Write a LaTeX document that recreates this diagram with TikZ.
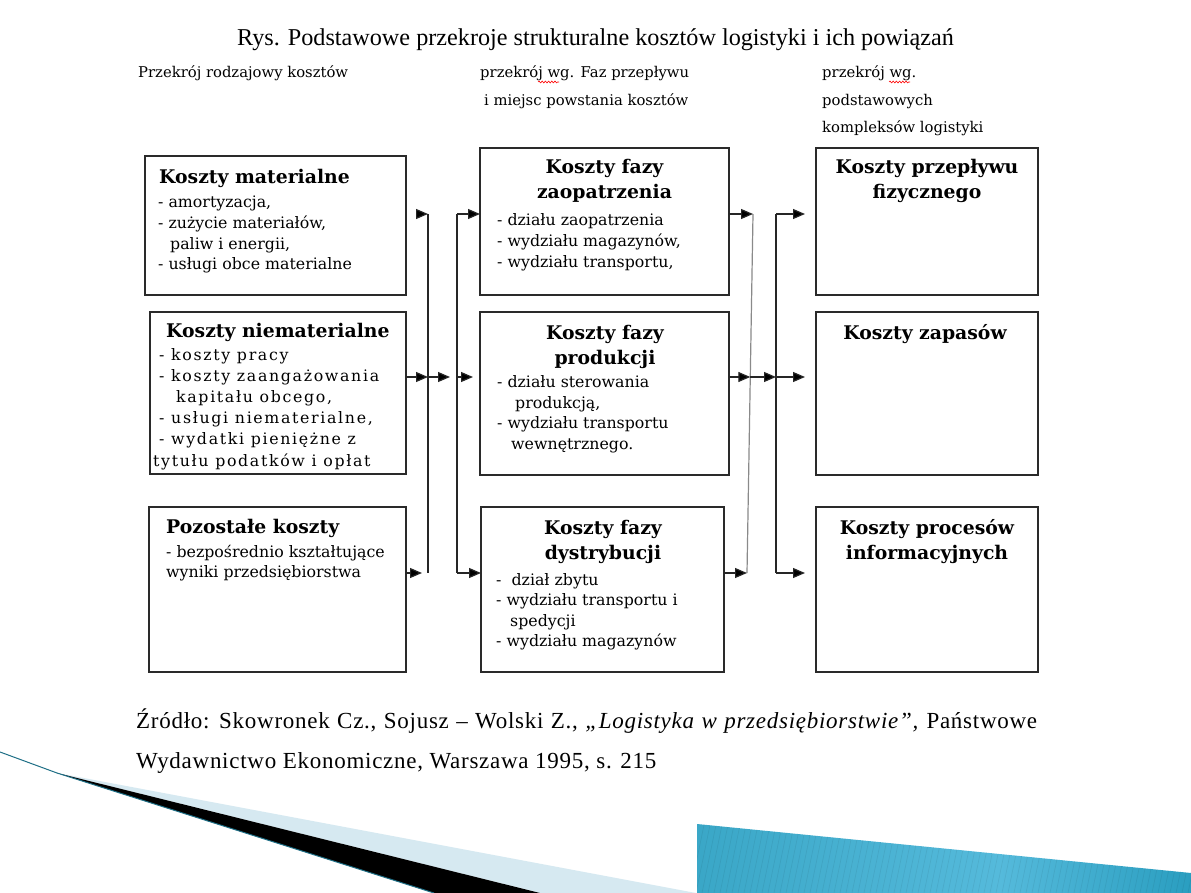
\documentclass[tikz,border=0pt]{standalone}
\usepackage{fontspec}
\setmainfont{Liberation Serif}
\newfontfamily\cenfont{DejaVu Serif}
\newfontfamily\cenfontsp[LetterSpace=10.5]{DejaVu Serif}
\newfontfamily\srcfont[LetterSpace=3.2]{Liberation Serif}
\usetikzlibrary{arrows.meta,decorations.pathmorphing}
\newcommand{\ltab}[1]{\begin{tabular}[t]{@{}l@{}}#1\end{tabular}}
\newcommand{\ctab}[1]{\begin{tabular}[t]{@{}c@{}}#1\end{tabular}}
\definecolor{lnc}{HTML}{2A2A2A}
\definecolor{cnc}{HTML}{262626}
\definecolor{slantc}{HTML}{8A8A8A}
\definecolor{swlight}{HTML}{D6E9F1}
\definecolor{swteal}{HTML}{1E6F86}
\definecolor{blA}{HTML}{3AA7C7}
\definecolor{blB}{HTML}{0C86A9}
\definecolor{blC}{HTML}{55BADB}
\definecolor{blD}{HTML}{2A9EC0}
\begin{document}
\begin{tikzpicture}[x=1pt,y=-1pt,
  box/.style={draw=lnc,line width=1.4pt,inner sep=0pt,outer sep=0pt,anchor=north west},
  ttl/.style={inner sep=0pt,font=\cenfont\bfseries\fontsize{18.8}{25}\selectfont},
  bodyt/.style={inner sep=0pt,anchor=base west,font=\cenfont\fontsize{15.8}{20.6}\selectfont},
  bodysp/.style={inner sep=0pt,anchor=base west,font=\cenfontsp\fontsize{15.8}{21.2}\selectfont},
  hdr/.style={inner sep=0pt,anchor=base west,font=\cenfont\fontsize{14.8}{27.5}\selectfont},
  src/.style={inner sep=0pt,anchor=base west,font=\srcfont\fontsize{23}{28}\selectfont},
  conn/.style={draw=cnc,line width=1.2pt},
  arr/.style={conn,-{Triangle[length=12pt,width=10pt,fill=black]}},
  squig/.style={draw=red,line width=0.6pt,decorate,decoration={snake,amplitude=0.9pt,segment length=3.2pt}}
]
\useasboundingbox (0,0) rectangle (1191,893);
\fill[white] (0,0) rectangle (1191,893);

% title and headers
\node[inner sep=0pt,anchor=base,font=\fontsize{24.2}{28}\selectfont] (title) at (595.5,46)
  {Rys. Podstawowe przekroje strukturalne kosztów logistyki i ich powiązań};
\node[hdr] (h1) at (138,78) {Przekrój rodzajowy kosztów};
\node[hdr] (h2) at (480,78) {\ltab{przekrój wg. Faz przepływu\\\hspace*{4pt}i miejsc powstania kosztów}};
\node[hdr] (h3) at (822,78) {\ltab{przekrój wg.\\podstawowych\\kompleksów logistyki}};
\coordinate (q1a) at (538,82); \coordinate (q1b) at (559,82);
\coordinate (q2a) at (889,82); \coordinate (q2b) at (910,82);
\draw[squig] (q1a) -- (q1b);
\draw[squig] (q2a) -- (q2b);

% column 1
\node[box,minimum width=261pt,minimum height=139pt] (A) at (145,156) {};
\node[box,minimum width=256pt,minimum height=162pt] (B) at (150,312) {};
\node[box,minimum width=257pt,minimum height=165pt] (C) at (149,507) {};
% column 2
\node[box,minimum width=249pt,minimum height=147pt] (D) at (480,148) {};
\node[box,minimum width=249pt,minimum height=163pt] (E) at (480,312) {};
\node[box,minimum width=243pt,minimum height=165pt] (F) at (481,507) {};
% column 3
\node[box,minimum width=222pt,minimum height=147pt] (G) at (816,148) {};
\node[box,minimum width=222pt,minimum height=163pt] (H) at (816,312) {};
\node[box,minimum width=222pt,minimum height=165pt] (I) at (816,507) {};

% texts column 1
\node[ttl,anchor=base west] (At) at (159,184) {Koszty materialne};
\node[bodyt] (Ab) at (158,208) {\ltab{- amortyzacja,\\- zużycie materiałów,\\\hspace*{12pt}paliw i energii,\\- usługi obce materialne}};
\node[ttl,anchor=base west] (Bt) at (166,337) {Koszty niematerialne};
\node[bodysp] (Bb) at (159,360) {\ltab{- koszty pracy\\- koszty zaangażowania\\\hspace*{17pt}kapitału obcego,\\- usługi niematerialne,\\- wydatki pieniężne z\\\hspace*{-6pt}tytułu podatków i opłat}};
\node[ttl,anchor=base west] (Ct) at (166,533) {Pozostałe koszty};
\node[bodyt] (Cb) at (166,557) {\ltab{- bezpośrednio kształtujące\\wyniki przedsiębiorstwa}};

% texts column 2
\node[ttl,anchor=base] (Dt) at (604.5,174) {\ctab{Koszty fazy\\zaopatrzenia}};
\node[bodyt] (Db) at (497,226) {\ltab{-\ działu zaopatrzenia\\- wydziału magazynów,\\- wydziału transportu,}};
\node[ttl,anchor=base] (Et) at (605,339) {\ctab{Koszty fazy\\produkcji}};
\node[bodyt] (Eb) at (497,387.5) {\ltab{- działu sterowania\\\hspace*{18pt}produkcją,\\- wydziału transportu\\\hspace*{14pt}wewnętrznego.}};
\node[ttl,anchor=base] (Ft) at (603,534) {\ctab{Koszty fazy\\dystrybucji}};
\node[bodyt] (Fb) at (496,585) {\ltab{-\ \ dział zbytu\\- wydziału transportu i\\\hspace*{14pt}spedycji\\- wydziału magazynów}};

% texts column 3
\node[ttl,anchor=base] (Gt) at (927,174) {\ctab{Koszty przepływu\\fizycznego}};
\node[ttl,anchor=base] (Ht) at (925,339) {Koszty zapasów};
\node[ttl,anchor=base] (It) at (927,534) {\ctab{Koszty procesów\\informacyjnych}};

% left connectors
\coordinate (L1) at (428,214); \coordinate (L2) at (428,377); \coordinate (L3) at (428,573);
\coordinate (R1) at (457,214); \coordinate (R2) at (457,377); \coordinate (R3) at (457,573);
\coordinate (M1) at (450,377);
\coordinate (L0) at (416,214);
\coordinate (C3) at (422,573);
\coordinate (E2) at (473,377);
\draw[conn] (L1) -- (L3);
\draw[conn] (R1) -- (R3);
\draw[arr] (L0) -- (L1);
\draw[arr] (B.east |- L2) -- (L2);
\draw[arr] (C.east |- C3) -- (C3);
\draw[arr] (L2) -- (M1);
\draw[arr] (R1) -- (D.west |- R1);
\draw[arr] (R2) -- (E2);
\draw[arr] (R3) -- (F.west |- R3);

% right connectors
\coordinate (S1) at (753,214); \coordinate (S2) at (750.3,377); \coordinate (S3) at (747,573);
\coordinate (T1) at (776,214); \coordinate (T2) at (776,377); \coordinate (T3) at (776,573);
\coordinate (U1) at (805,214); \coordinate (U2) at (805,377); \coordinate (U3) at (805,573);
\draw[conn,draw=slantc] (S1) -- (S3);
\draw[conn] (T1) -- (T3);
\draw[arr] (D.east |- S1) -- (S1);
\draw[arr] (E.east |- S2) -- (S2);
\draw[arr] (F.east |- S3) -- (S3);
\draw[arr] (S2) -- (T2);
\draw[arr] (T1) -- (U1);
\draw[arr] (T2) -- (U2);
\draw[arr] (T3) -- (U3);

% source
\node[src] (src1) at (136,728) {\spaceskip=7.4pt plus 1pt Źródło: Skowronek Cz., Sojusz – Wolski Z., \textit{„Logistyka w przedsiębiorstwie”,} Państwowe};
\node[src] (src2) at (136,768) {Wydawnictwo Ekonomiczne, Warszawa 1995, s. 215};

% bottom decoration
\fill[swlight] (57,773) -- (696,893) -- (540,893) -- cycle;
\fill[black] (57,773) -- (540,893) -- (434,893) -- cycle;
\draw[swteal,line width=1pt] (0,752) -- (57,773) -- (434,893);
\begin{scope}
\clip (697,824) -- (1191,873) -- (1191,893) -- (697,893) -- cycle;
\shade[left color=blA,middle color=blB,right color=blC] (697,820) rectangle (1000,893);
\shade[left color=blC,right color=blD] (999.5,820) rectangle (1191,893);
\foreach \k in {0,...,84} {\draw[black,opacity=0.07,line width=0.6pt] (690+\k*6,893) -- (705+\k*6,820);}
\end{scope}
\end{tikzpicture}
\end{document}
